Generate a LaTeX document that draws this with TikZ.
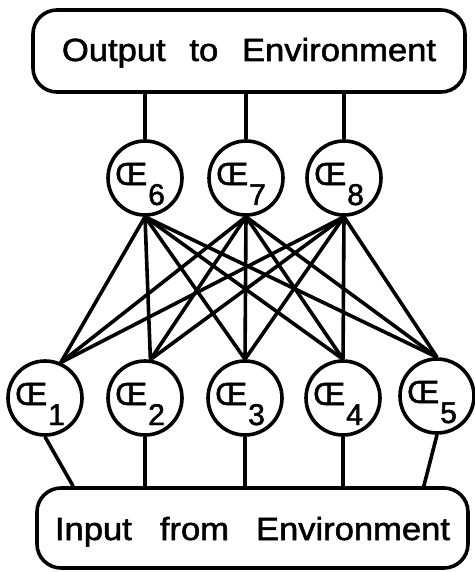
\documentclass[tikz,border=0pt]{standalone}
\usepackage{graphicx}
\usepackage{fontspec}
\setmainfont{Liberation Sans}
\newfontfamily\heavysans[FakeBold=1.6]{Liberation Sans}
\usetikzlibrary{calc}
\begin{document}
\begin{tikzpicture}[x=1pt,y=-1pt,
  wire/.style={line width=3.6pt},
  unit/.style={circle, draw, line width=3.6pt, minimum size=74pt, inner sep=0pt},
  envbox/.style={draw, line width=3.6pt, rounded corners=24pt, inner sep=0pt,
    font=\heavysans\fontsize{32}{36}\selectfont},
  lbl/.style={inner sep=0pt, anchor=base west, font=\heavysans\fontsize{32}{36}\selectfont}]
\useasboundingbox (0,0) rectangle (474,572);

% environment boxes
\node[envbox, minimum width=432pt, minimum height=82pt, text height=23pt, text depth=3pt]
  (out) at (249,51) {\scalebox{1.08}[1]{Output\hspace{22pt}to\hspace{22pt}Environment}};
\node[envbox, minimum width=431pt, minimum height=80pt, text height=24pt, text depth=0pt]
  (in) at (252.5,528) {\scalebox{1.08}[1]{Input\hspace{26pt}from\hspace{25pt}Environment}};

% computing elements
\node[unit] (c6) at (145,178) {};
\node[unit] (c7) at (246,178) {};
\node[unit] (c8) at (344,178) {};
\node[unit] (c1) at (45,398) {};
\node[unit] (c2) at (145,398) {};
\node[unit] (c3) at (245,398) {};
\node[unit] (c4) at (343,398) {};
\node[unit] (c5) at (437,396) {};

% element labels
\foreach \k in {1,...,8}{
  \node[lbl] (l\k) at ($(c\k.center)+(-30,7)$)
    {Œ\kern1pt\raisebox{-20pt}{\fontsize{30}{30}\selectfont \k}};
}

% output box to upper layer
\foreach \u in {c6,c7,c8}
  \draw[wire] (\u.north) -- (\u.north |- out.south);

% full connection between the layers
\foreach \u in {c6,c7,c8}
  \foreach \d in {c1.66,c2.82,c3.north,c4.north,c5.north}
    \draw[wire] (\u.south) -- (\d);

% lower layer to input box
\draw[wire] (c1.south) -- ([xshift=38pt]in.north west);
\foreach \d in {c2,c3,c4}
  \draw[wire] (\d.south) -- (\d.south |- in.north);
\draw[wire] (c5.south) -- ([xshift=-46pt]in.north east);
\end{tikzpicture}
\end{document}
